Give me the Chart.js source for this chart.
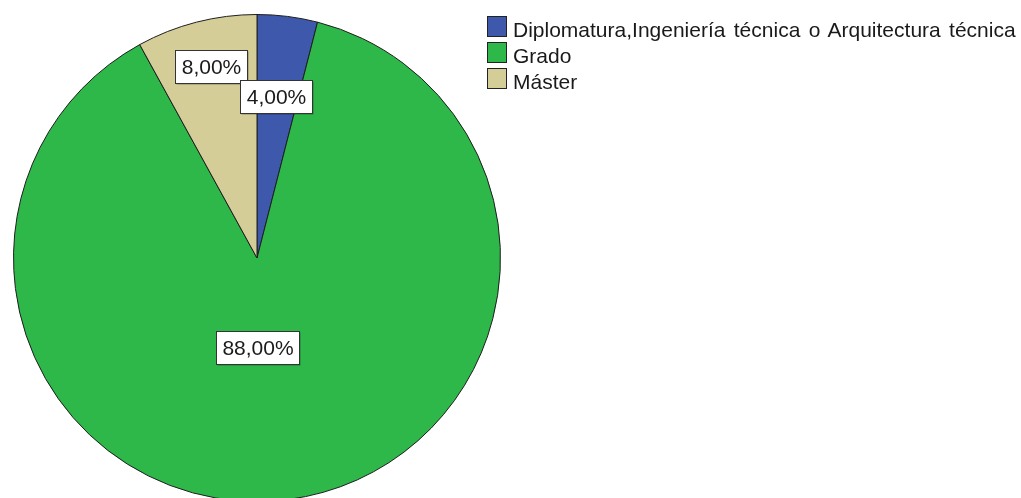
<!DOCTYPE html>
<html>
<head>
<meta charset="utf-8">
<script src="https://cdn.jsdelivr.net/npm/chart.js@4"></script>
<style>
    html, body { margin: 0; padding: 0; background: #ffffff; overflow: hidden; }
    #wrap { position: relative; width: 1021px; height: 498px; overflow: hidden; }
    #pie-chart { position: absolute; left: 0; top: 0; }
    #legend { position: absolute; left: 487px; top: 16px; font-family: "Liberation Sans", Arial, sans-serif; font-size: 21px; color: #1a1a1a; }
    .legend-row { display: flex; align-items: flex-start; height: 26px; line-height: 26px; }
    .legend-box { width: 18px; height: 19px; border: 1px solid #222222; margin-right: 6px; margin-top: 0px; }
    .legend-text { margin-top: 1px; white-space: pre; word-spacing: 2.5px; }
</style>
</head>
<body>
<div id="wrap">
    <canvas id="pie-chart" width="1021" height="516"></canvas>
    <div id="legend"></div>
</div>
<script>
(function () {
    "use strict";

    // chart data
    let categories = ["Diplomatura,Ingeniería técnica o Arquitectura técnica", "Grado", "Máster"];
    let percentages = [4, 88, 8];
    let sliceColors = ['#3e58ac', '#2eb84a', '#d4cd98'];

    /**
     * Label placement for each slice: fraction of the radius along the mid angle,
     * plus a small pixel nudge (the original moves labels around a bit)
     */
    let labelPlacement = [
        { r: 0.67, dx: -1, dy: 0 },
        { r: 0.37, dx: -11, dy: 0 },
        { r: 0.81, dx: 3, dy: 0 }
    ];

    /**
     * Formats a percentage the spanish way: 4 -> "4,00%"
     */
    function formatPercent(value) {
        return value.toFixed(2).replace('.', ',') + '%';
    }

    // draws the white boxed percentage labels on top of the slices
    let boxLabels = {
        id: 'boxLabels',
        afterDatasetsDraw(chart) {
            let ctx = chart.ctx;
            let arcs = chart.getDatasetMeta(0).data;
            let order = [1, 2, 0]; // the 4% box sits on top of the 8% one
            ctx.save();
            ctx.font = '21px "Liberation Sans", Arial, sans-serif';
            ctx.textAlign = 'center';
            ctx.textBaseline = 'middle';
            order.forEach(i => {
                let arc = arcs[i];
                let p = arc.getProps(['x', 'y', 'startAngle', 'endAngle', 'outerRadius'], true);
                let mid = (p.startAngle + p.endAngle) / 2;
                let place = labelPlacement[i];
                let cx = p.x + Math.cos(mid) * p.outerRadius * place.r + place.dx;
                let cy = p.y + Math.sin(mid) * p.outerRadius * place.r + place.dy;
                let text = formatPercent(percentages[i]);
                let w = Math.round(ctx.measureText(text).width) + 12;
                let h = 33;
                let left = Math.round(cx - w / 2) + 0.5;
                let top = Math.round(cy - h / 2) + 0.5;
                // faint shadow
                ctx.fillStyle = 'rgba(0,0,0,0.35)';
                ctx.fillRect(left + 1, top + 1, w, h);
                ctx.fillStyle = '#ffffff';
                ctx.fillRect(left, top, w, h);
                ctx.strokeStyle = '#333333';
                ctx.lineWidth = 1;
                ctx.strokeRect(left, top, w, h);
                ctx.fillStyle = '#1a1a1a';
                ctx.fillText(text, left + w / 2, top + h / 2 + 1);
            });
            ctx.restore();
        }
    };

    let chart = new Chart(document.getElementById('pie-chart'), {
        type: 'pie',
        data: {
            labels: categories,
            datasets: [{
                data: percentages,
                backgroundColor: sliceColors,
                borderColor: '#1e1e1e',
                borderWidth: 1
            }]
        },
        options: {
            responsive: false,
            animation: false,
            layout: {
                padding: { left: 13, top: 14, bottom: 14, right: 520 }
            },
            plugins: {
                legend: { display: false },
                tooltip: { enabled: false }
            }
        },
        plugins: [boxLabels]
    });

    // html legend built from the chart's own legend items
    let legendElem = document.getElementById('legend');
    let items = chart.options.plugins.legend.labels.generateLabels(chart);
    items.forEach(item => {
        let row = document.createElement('div');
        row.className = 'legend-row';
        let box = document.createElement('div');
        box.className = 'legend-box';
        box.style.background = item.fillStyle;
        let label = document.createElement('span');
        label.className = 'legend-text';
        label.textContent = item.text;
        row.appendChild(box);
        row.appendChild(label);
        legendElem.appendChild(row);
    });
})();
</script>
</body>
</html>
